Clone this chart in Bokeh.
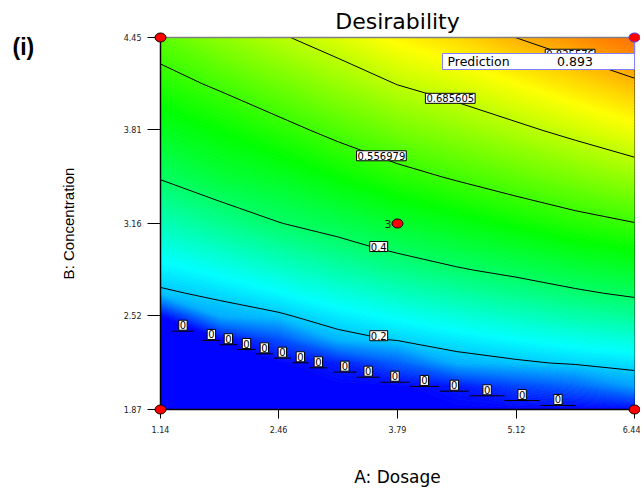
import numpy as np
from bokeh.plotting import figure
from bokeh.models import Range1d, FixedTicker, PrintfTickFormatter, ColumnDataSource
from bokeh.core.properties import value
from bokeh.embed import file_html
from bokeh.resources import INLINE
from contourpy import contour_generator

# ---------------- data ----------------
dosage = [1.14, 1.8025, 2.465, 3.1275, 3.79, 4.4525, 5.115, 5.7775, 6.44]          # A: Dosage
concentration = [1.87, 2.03125, 2.1925, 2.35375, 2.515, 2.67625, 2.8375, 2.99875,
                 3.16, 3.4825, 3.805, 4.1275, 4.45]                                  # B: Concentration
# desirability rows follow concentration (bottom -> top), columns follow dosage
desirability = [
    [0.000, 0.000, 0.000, 0.000, 0.000, 0.000, 0.000, 0.000, 0.005],
    [0.000, 0.000, 0.000, 0.000, 0.000, 0.022, 0.063, 0.096, 0.156],
    [0.000, 0.000, 0.000, 0.028, 0.090, 0.173, 0.191, 0.207, 0.221],
    [0.000, 0.000, 0.074, 0.177, 0.204, 0.228, 0.249, 0.268, 0.285],
    [0.000, 0.167, 0.190, 0.229, 0.257, 0.283, 0.306, 0.329, 0.350],
    [0.189, 0.215, 0.246, 0.280, 0.311, 0.339, 0.364, 0.390, 0.411],
    [0.233, 0.263, 0.297, 0.331, 0.364, 0.394, 0.416, 0.439, 0.459],
    [0.276, 0.311, 0.347, 0.382, 0.414, 0.438, 0.462, 0.486, 0.507],
    [0.320, 0.359, 0.398, 0.425, 0.454, 0.480, 0.507, 0.533, 0.555],
    [0.405, 0.445, 0.467, 0.501, 0.535, 0.564, 0.592, 0.620, 0.649],
    [0.468, 0.501, 0.536, 0.575, 0.612, 0.640, 0.671, 0.703, 0.735],
    [0.532, 0.567, 0.607, 0.647, 0.687, 0.715, 0.748, 0.782, 0.816],
    [0.590, 0.637, 0.678, 0.717, 0.759, 0.788, 0.826, 0.860, 0.893],
]

contour_levels = [0.2, 0.4, 0.556979, 0.685605, 0.825576]
contour_label_x = [3.58, 3.58, 3.61, 4.38, 5.72]

# zero-desirability contour pieces (step segments)
zero_seg_x0 = [1.271, 1.606, 1.800, 2.001, 2.202, 2.403, 2.613, 2.806, 3.071, 3.332,
               3.600, 3.928, 4.263, 4.598, 4.986, 5.389]
zero_seg_x1 = [1.512, 1.811, 1.998, 2.202, 2.400, 2.601, 2.795, 3.004, 3.332, 3.592,
               3.924, 4.252, 4.587, 4.986, 5.381, 5.780]
zero_seg_y = [2.413, 2.349, 2.319, 2.286, 2.256, 2.226, 2.194, 2.159, 2.129, 2.094,
              2.059, 2.030, 1.997, 1.965, 1.932, 1.898]

design_x = [1.14, 1.14, 6.44, 6.44, 3.79]
design_y = [1.87, 4.45, 1.87, 4.45, 3.16]
center_replicates = "3"

pred_x, pred_y, pred_value = 6.44, 4.45, 0.893

x_ticks = [1.14, 2.46, 3.79, 5.12, 6.44]
y_ticks = [1.87, 2.52, 3.16, 3.81, 4.45]

# ---------------- figure ----------------
W, H = 640, 490
BL, BT = 160, 37
BR, BB = W - 634, H - 409
x0r, x1r = dosage[0], dosage[-1]
y0r, y1r = concentration[0], concentration[-1]
kx = (W - BL - BR) / (x1r - x0r)
ky = (H - BT - BB) / (y1r - y0r)

p = figure(width=W, height=H, x_range=Range1d(x0r, x1r), y_range=Range1d(y0r, y1r),
           output_backend="svg", toolbar_location=None,
           min_border_left=BL, min_border_right=BR, min_border_top=BT, min_border_bottom=BB,
           title="Desirability")
p.grid.visible = False
p.outline_line_color = "black"
p.background_fill_color = "white"

Z = np.array(desirability)
xs = np.array(dosage)
ys = np.array(concentration)
gen = contour_generator(x=xs, y=ys, z=Z)


def ramp(t):
    stops = [(0.0, (0, 0, 255)), (0.25, (0, 255, 255)), (0.5, (0, 255, 0)),
             (0.75, (255, 255, 0)), (1.0, (255, 0, 0))]
    t = min(max(t, 0.0), 1.0)
    for (t0, c0), (t1, c1) in zip(stops[:-1], stops[1:]):
        if t <= t1:
            f = (t - t0) / (t1 - t0)
            return "#%02x%02x%02x" % tuple(int(round(a + (b - a) * f)) for a, b in zip(c0, c1))
    return "#ff0000"


# filled colour bands computed by contourpy from the grid
nb = 200
edges = [-0.001] + list(np.linspace(0, 1, nb + 1)[1:])
poly_xs, poly_ys, poly_c = [], [], []
for i in range(nb):
    col = ramp((i + 0.5) / nb)
    pts_list, offs_list = gen.filled(edges[i], edges[i + 1])
    for pts, offs in zip(pts_list, offs_list):
        rings = [pts[offs[j]:offs[j + 1]] for j in range(len(offs) - 1)]
        if not rings:
            continue
        poly_xs.append([[list(r[:, 0]) for r in rings]])
        poly_ys.append([[list(r[:, 1]) for r in rings]])
        poly_c.append(col)
p.multi_polygons(xs=poly_xs, ys=poly_ys, fill_color=poly_c, line_color=poly_c, line_width=0.8)

# contour lines
p.contour(x=xs, y=ys, z=Z, levels=contour_levels, fill_color=None, line_color="black", line_width=1)

# zero contour steps
p.segment(x0=zero_seg_x0, y0=zero_seg_y, x1=zero_seg_x1, y1=zero_seg_y, line_color="black", line_width=1)

# contour labels placed on the computed lines
lab_x, lab_y, lab_t = [], [], []
for lev, lx in zip(contour_levels, contour_label_x):
    lines = gen.lines(lev)
    line = max(lines, key=len)
    order = np.argsort(line[:, 0])
    ly = float(np.interp(lx, line[order, 0], line[order, 1]))
    lab_x.append(lx)
    lab_y.append(ly)
    lab_t.append(f"{lev:g}")

p.text(x="x", y="y", text="text", source=ColumnDataSource(dict(x=lab_x, y=lab_y, text=lab_t)),
       text_font=value("DejaVu Sans"), text_font_size="10px", text_color="black",
       text_align="center", text_baseline="middle", y_offset=-2,
       background_fill_color="white", border_line_color="black", border_line_width=1, padding=1)

zx = [(a + b) / 2 for a, b in zip(zero_seg_x0, zero_seg_x1)]
p.text(x="x", y="y", text="text",
       source=ColumnDataSource(dict(x=zx, y=zero_seg_y, text=["0"] * len(zx))),
       text_font=value("DejaVu Sans"), text_font_size="10px", text_color="black",
       text_align="center", text_baseline="middle", y_offset=-6,
       background_fill_color="white", border_line_color="black", border_line_width=1, padding=1)

# top edge in grey
p.segment(x0=[x0r], y0=[y1r], x1=[x1r], y1=[y1r], line_color="#808080", line_width=1.5, level="overlay")

# prediction flag
box_l = pred_x - 192 / kx
box_t = pred_y - 16 / ky
box_b = pred_y - 32 / ky
p.segment(x0=[pred_x], y0=[pred_y], x1=[pred_x], y1=[box_t], line_color="#8080ff", line_width=1.5, level="overlay")
p.quad(left=[box_l], right=[pred_x], top=[box_t], bottom=[box_b], fill_color="white",
       line_color="#8080ff", line_width=1, level="overlay")
p.text(x=[box_l + 5 / kx], y=[(box_t + box_b) / 2], text=["Prediction"], text_font=value("DejaVu Sans"),
       text_font_size="12.5px", text_color="black", text_align="left", text_baseline="middle", level="overlay")
p.text(x=[pred_x - 59.5 / kx], y=[(box_t + box_b) / 2], text=[f"{pred_value:.3f}"], text_font=value("DejaVu Sans"),
       text_font_size="12.5px", text_color="black", text_align="center", text_baseline="middle", level="overlay")

# design points
line_cols = ["black", "black", "black", "#4040ff", "black"]
p.ellipse(x=design_x, y=design_y, width=11, height=9, width_units="screen", height_units="screen",
          fill_color="red", line_color=line_cols, line_width=1, level="overlay")
p.text(x=[design_x[-1]], y=[design_y[-1]], text=[center_replicates], x_offset=-6,
       text_font=value("DejaVu Sans"), text_font_size="11px", text_color="#222222",
       text_align="right", text_baseline="middle")

# panel label
p.text(x=[x0r - 148 / kx], y=[y1r - 9 / ky], text=["(i)"], text_font=value("Liberation Sans"),
       text_font_style="bold", text_font_size="23px", text_color="black",
       text_align="left", text_baseline="middle", level="overlay")

# title
p.title.text_font = "DejaVu Sans"
p.title.text_font_size = "22px"
p.title.text_font_style = "normal"
p.title.align = "center"
p.title.text_color = "black"
p.title.standoff = 7

# axes
for ax in (p.xaxis[0], p.yaxis[0]):
    ax.formatter = PrintfTickFormatter(format="%.2f")
    ax.major_tick_in = 0
    ax.minor_tick_out = 0
    ax.minor_tick_in = 0
    ax.axis_line_color = "black"
    ax.axis_line_width = 1.5
    ax.major_tick_line_color = "black"
    ax.major_label_text_font = "DejaVu Sans"
    ax.major_label_text_font_size = "8px"
    ax.major_label_text_color = "#222222"
    ax.axis_label_text_font_style = "normal"
    ax.axis_label_text_color = "black"

p.xaxis.ticker = FixedTicker(ticks=x_ticks)
p.yaxis.ticker = FixedTicker(ticks=y_ticks)
p.xaxis.major_tick_out = 9
p.yaxis.major_tick_out = 13
p.xaxis.major_label_standoff = 7
p.yaxis.major_label_standoff = 6
p.xaxis.axis_label = "A: Dosage"
p.yaxis.axis_label = "B: Concentration"
p.xaxis.axis_label_text_font = "DejaVu Sans"
p.xaxis.axis_label_text_font_size = "17px"
p.yaxis.axis_label_text_font = "Liberation Sans"
p.yaxis.axis_label_text_font_size = "15px"
p.xaxis.axis_label_standoff = 31
p.yaxis.axis_label_standoff = 44

open("out.html", "w").write(file_html(p, INLINE))
